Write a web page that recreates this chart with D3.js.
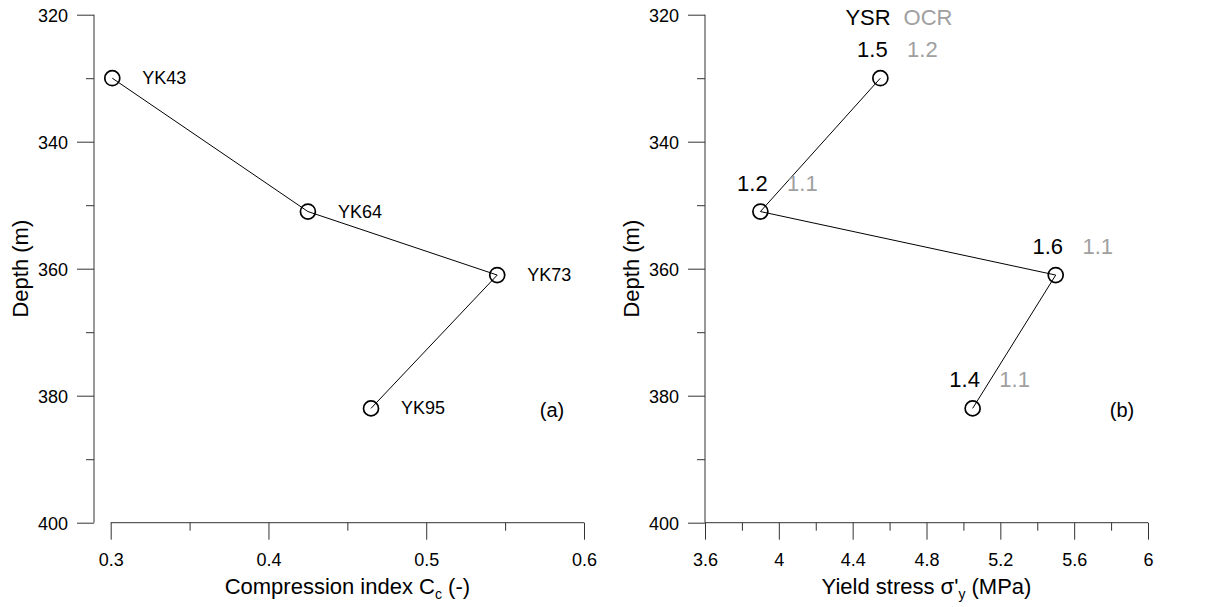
<!DOCTYPE html>
<html lang="en">
<head>
<meta charset="UTF-8">
<title>Cc and yield stress vs depth</title>
<script src="https://d3js.org/d3.v7.min.js"></script>
<style>
  body { margin: 0; background: #fff; font-family: Arial, "Liberation Sans", sans-serif; }
  .axis path, .axis line { stroke: #333; }
  .axis text { font-family: Arial, "Liberation Sans", sans-serif; fill: #000; }
</style>
</head>
<body>
<div id="chart"></div>
<script>
// sample data
var samples = ["YK43", "YK64", "YK73", "YK95"];
var depths = [330, 351, 361, 382];
var ccValues = [0.301, 0.425, 0.545, 0.465];
var yieldValues = [4.55, 3.90, 5.50, 5.05];
var ysrLabels = ["1.5", "1.2", "1.6", "1.4"];
var ocrLabels = ["1.2", "1.1", "1.1", "1.1"];

var depthTicks = [320, 340, 360, 380, 400];
var depthMinor = [330, 350, 370, 390];
var ccTicks = [0.3, 0.4, 0.5, 0.6];
var ccMinor = [0.35, 0.45, 0.55];
var yieldTicks = [3.6, 4, 4.4, 4.8, 5.2, 5.6, 6];
var yieldMinor = [3.8, 4.2, 4.6, 5.0, 5.4, 5.8];

var W = 1231, H = 607;
var svg = d3.select("#chart").append("svg")
    .attr("width", W).attr("height", H);

var y = d3.scaleLinear().domain([320, 400]).range([14.7, 522.7]);

function depthAxis(x0) {
    var g = svg.append("g").attr("class", "axis")
        .attr("transform", "translate(" + x0 + ",0)");
    g.call(d3.axisLeft(y).tickValues(depthTicks).tickSize(17).tickPadding(9).tickFormat(d3.format("d")))
        .style("font-size", "18px");
    g.select(".domain").attr("d", "M0," + y(320) + "V" + y(400));
    g.selectAll(".tick text").attr("dy", "0.36em");
    svg.append("g").attr("class", "axis")
        .attr("transform", "translate(" + x0 + ",0)")
        .call(d3.axisLeft(y).tickValues(depthMinor).tickSize(8).tickFormat(""))
        .select(".domain").remove();
    svg.append("text")
        .attr("transform", "translate(" + (x0 - 66) + "," + y(360) + ") rotate(-90)")
        .attr("text-anchor", "middle")
        .style("font-size", "22px")
        .text("Depth (m)");
}

function bottomAxis(x, ticks, minor, fmt) {
    var g = svg.append("g").attr("class", "axis")
        .attr("transform", "translate(0," + y(400) + ")");
    g.call(d3.axisBottom(x).tickValues(ticks).tickSize(17).tickPadding(14).tickFormat(fmt))
        .style("font-size", "18px");
    g.select(".domain").attr("d", "M" + x.range()[0] + ",0H" + x.range()[1]);
    svg.append("g").attr("class", "axis")
        .attr("transform", "translate(0," + y(400) + ")")
        .call(d3.axisBottom(x).tickValues(minor).tickSize(8).tickFormat(""))
        .select(".domain").remove();
}

// ---- panel (a)
var xa = d3.scaleLinear().domain([0.3, 0.6]).range([110.7, 584]);
depthAxis(94);
bottomAxis(xa, ccTicks, ccMinor, function (d) { return d3.format(".1f")(d); });

var titleA = svg.append("text")
    .attr("x", (xa.range()[0] + xa.range()[1]) / 2).attr("y", 594)
    .attr("text-anchor", "middle").style("font-size", "22px");
titleA.append("tspan").text("Compression index C");
titleA.append("tspan").attr("dy", 5).style("font-size", "14px").text("c");
titleA.append("tspan").attr("dy", -5).text(" (-)");

var ptsA = samples.map(function (s, i) { return { name: s, x: ccValues[i], d: depths[i] }; });
svg.append("path").datum(ptsA)
    .attr("fill", "none").attr("stroke", "#000").attr("stroke-width", 1)
    .attr("d", d3.line().x(function (d) { return xa(d.x); }).y(function (d) { return y(d.d); }));
svg.selectAll(".ca").data(ptsA).enter().append("circle")
    .attr("cx", function (d) { return xa(d.x); })
    .attr("cy", function (d) { return y(d.d); })
    .attr("r", 7.5).attr("fill", "none").attr("stroke", "#000").attr("stroke-width", 1.7);
svg.selectAll(".la").data(ptsA).enter().append("text")
    .attr("x", function (d) { return xa(d.x) + 30; })
    .attr("y", function (d) { return y(d.d) + 6; })
    .style("font-size", "18px")
    .text(function (d) { return d.name; });
svg.append("text").attr("x", 552).attr("y", 417)
    .attr("text-anchor", "middle").style("font-size", "20px").text("(a)");

// ---- panel (b)
var xb = d3.scaleLinear().domain([3.6, 6]).range([705, 1148]);
depthAxis(705);
bottomAxis(xb, yieldTicks, yieldMinor, function (d) { return d3.format("~g")(d); });

var titleB = svg.append("text")
    .attr("x", (xb.range()[0] + xb.range()[1]) / 2).attr("y", 594)
    .attr("text-anchor", "middle").style("font-size", "22px");
titleB.append("tspan").text("Yield stress σ'");
titleB.append("tspan").attr("dy", 5).style("font-size", "14px").text("y");
titleB.append("tspan").attr("dy", -5).text(" (MPa)");

var ptsB = samples.map(function (s, i) {
    return { x: yieldValues[i], d: depths[i], ysr: ysrLabels[i], ocr: ocrLabels[i] };
});
svg.append("path").datum(ptsB)
    .attr("fill", "none").attr("stroke", "#000").attr("stroke-width", 1)
    .attr("d", d3.line().x(function (d) { return xb(d.x); }).y(function (d) { return y(d.d); }));
svg.selectAll(".cb").data(ptsB).enter().append("circle")
    .attr("cx", function (d) { return xb(d.x); })
    .attr("cy", function (d) { return y(d.d); })
    .attr("r", 7.5).attr("fill", "none").attr("stroke", "#000").attr("stroke-width", 1.7);
svg.selectAll(".ysr").data(ptsB).enter().append("text")
    .attr("x", function (d) { return xb(d.x) - 8; })
    .attr("y", function (d) { return y(d.d) - 21; })
    .attr("text-anchor", "middle").style("font-size", "22px")
    .text(function (d) { return d.ysr; });
svg.selectAll(".ocr").data(ptsB).enter().append("text")
    .attr("x", function (d) { return xb(d.x) + 42; })
    .attr("y", function (d) { return y(d.d) - 21; })
    .attr("text-anchor", "middle").style("font-size", "22px").attr("fill", "#a0a0a0")
    .text(function (d) { return d.ocr; });
svg.append("text").attr("x", 868).attr("y", 25)
    .attr("text-anchor", "middle").style("font-size", "22px").text("YSR");
svg.append("text").attr("x", 928).attr("y", 25)
    .attr("text-anchor", "middle").style("font-size", "22px").attr("fill", "#a0a0a0").text("OCR");
svg.append("text").attr("x", 1122).attr("y", 417)
    .attr("text-anchor", "middle").style("font-size", "20px").text("(b)");
</script>
</body>
</html>
